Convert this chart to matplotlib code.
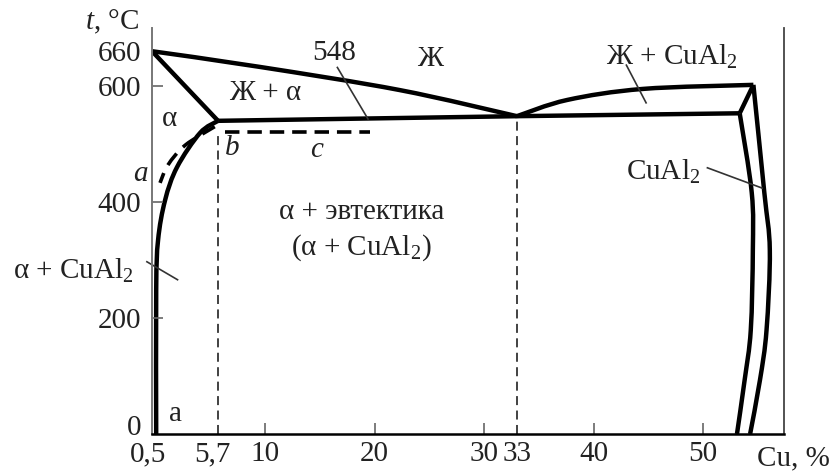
import numpy as np
import matplotlib
matplotlib.use("Agg")
import matplotlib.pyplot as plt
from matplotlib.path import Path
from matplotlib.patches import PathPatch
from matplotlib.transforms import ScaledTranslation

plt.rcParams['font.family'] = ['Liberation Serif', 'DejaVu Serif']
plt.rcParams['mathtext.fontset'] = 'custom'
plt.rcParams['mathtext.rm'] = 'Liberation Serif'
plt.rcParams['mathtext.it'] = 'Liberation Serif:italic'

# ---- data (Cu %, t in deg C) ----
liq_left_x = [-0.33, 9.5, 22.3, 33.0]
liq_left_t = [660, 633, 593, 548]

sol_left_x = [-0.33, 5.7]
sol_left_t = [660, 540]

eut_x = [5.7, 33.0, 53.35]
eut_t = [540, 548, 553]

liq_right_x = [33.0, 37.6, 44.5, 54.6]
liq_right_t = [548, 576, 595, 602]

corner_x = [54.6, 53.35]
corner_t = [602, 553]

# CuAl2 phase boundaries
cual_in_x = [53.35, 54.45, 54.55, 54.36, 53.8, 53.1]
cual_in_t = [553, 416, 317, 179, 93, 0]
cual_out_x = [54.6, 55.6, 56.1, 55.8, 55.2, 54.3]
cual_out_t = [602, 416, 317, 179, 93, 0]

# solvus of alpha (solid) and metastable (dashed)
solvus_x = [5.7, 4.05, 1.95, 0.86, 0.22, 0.05, 0.05]
solvus_t = [540, 519, 460, 403, 334, 248, 0]
solvus_d_x = [5.4, 2.7, 1.13, 0.4]
solvus_d_t = [530, 498, 464, 433]

bc_x = [6.3, 19.6]
bc_t = [521, 521]

x_ticks = [0.5, 5.7, 10, 20, 30, 33, 40, 50]
x_labels = ['0,5', '5,7', '10', '20', '30', '33', '40', '50']
y_ticks = [0, 200, 400, 600, 660]
y_labels = ['0', '200', '400', '600', '660']


def smooth_path(ax, xs, ts):
    # Catmull-Rom through the read points, drawn as cubic Bezier pieces in display space
    pts = ax.transData.transform(np.column_stack([xs, ts]))
    verts = [pts[0]]
    codes = [Path.MOVETO]
    n = len(pts)
    for i in range(n - 1):
        p0 = pts[i - 1] if i > 0 else pts[i]
        p1 = pts[i]
        p2 = pts[i + 1]
        p3 = pts[i + 2] if i + 2 < n else pts[i + 1]
        verts += [p1 + (p2 - p0) / 6, p2 - (p3 - p1) / 6, p2]
        codes += [Path.CURVE4] * 3
    verts = ax.transData.inverted().transform(np.array(verts))
    return Path(verts, codes)


fig = plt.figure(figsize=(8.34, 4.75), dpi=100)
ax = fig.add_axes([0.1823, 0.0863, 0.7578, 0.8547])
ax.set_xlim(-0.33, 57.4)
ax.set_ylim(0, 700)

txt = '#222222'
lw = 3.2
for xs, ts in [(sol_left_x, sol_left_t), (eut_x, eut_t), (corner_x, corner_t)]:
    ax.plot(xs, ts, color='black', lw=lw, solid_joinstyle='miter', solid_capstyle='butt')

for xs, ts in [(liq_left_x, liq_left_t), (liq_right_x, liq_right_t),
               (cual_in_x, cual_in_t), (cual_out_x, cual_out_t), (solvus_x, solvus_t)]:
    ax.add_patch(PathPatch(smooth_path(ax, xs, ts), fill=False, edgecolor='black',
                           lw=lw, capstyle='butt', joinstyle='miter'))

ax.add_patch(PathPatch(smooth_path(ax, solvus_d_x, solvus_d_t), fill=False,
                       edgecolor='black', lw=2.6, linestyle=(0, (4, 2.5))))
ax.plot(bc_x, bc_t, color='black', lw=2.6, dashes=(4, 2.2))

# vertical guides
ax.plot([5.7, 5.7], [0, 522], color='#333333', lw=1.3, dashes=(5, 3))
ax.plot([33, 33], [0, 546], color='#333333', lw=1.3, dashes=(5, 3))

# spines
ax.spines['top'].set_visible(False)
ax.spines['left'].set_color('#777777')
ax.spines['left'].set_linewidth(1.4)
ax.spines['right'].set_color('#444444')
ax.spines['right'].set_linewidth(1.3)
ax.spines['bottom'].set_linewidth(1.8)

fs = 21
ax.set_xticks(x_ticks)
ax.set_xticklabels(x_labels)
ax.set_yticks(y_ticks)
ax.set_yticklabels(y_labels)
ax.tick_params(axis='both', direction='in', length=8, width=1.2, color='#666666',
               labelsize=fs, labelcolor=txt)
ax.tick_params(axis='x', pad=5)
ax.tick_params(axis='y', pad=8)

xt = ax.xaxis.get_major_ticks()
for i in (0, 1, 5):
    xt[i].tick1line.set_visible(False)
yt = ax.yaxis.get_major_ticks()
for i in (0, 4):
    yt[i].tick1line.set_visible(False)

lab = ax.get_xticklabels()
lab[0].set_transform(lab[0].get_transform() + ScaledTranslation(-0.13, 0, fig.dpi_scale_trans))
lab[1].set_transform(lab[1].get_transform() + ScaledTranslation(-0.06, 0, fig.dpi_scale_trans))
ylab = ax.get_yticklabels()
ylab[0].set_transform(ylab[0].get_transform() + ScaledTranslation(0, 0.09, fig.dpi_scale_trans))

# axis titles
fig.text(0.134, 0.953, r'$t$, °C', fontsize=fs, color=txt, ha='center', va='center')
fig.text(0.951, 0.036, 'Cu, %', fontsize=fs, color=txt, ha='center', va='center')

ax.text(25.1, 647, 'Ж', fontsize=fs, color=txt, ha='center', va='center')
ax.text(16.3, 657, '548', fontsize=fs, color=txt, ha='center', va='center')
ax.plot([16.6, 19.4], [632, 543], color='#333333', lw=1.2)
ax.text(10.0, 588, 'Ж + α', fontsize=fs, color=txt, ha='center', va='center')
ax.text(1.3, 543, 'α', fontsize=fs, color=txt, ha='center', va='center')
ax.text(-1.4, 448, 'a', fontsize=fs, color=txt, ha='center', va='center',
        style='italic', clip_on=False)
ax.text(7.0, 493, 'b', fontsize=fs, color=txt, ha='center', va='center', style='italic')
ax.text(14.7, 490, 'c', fontsize=fs, color=txt, ha='center', va='center', style='italic')
ax.text(1.8, 34, 'a', fontsize=fs, color=txt, ha='center', va='center')

ax.text(-7.5, 281, 'α + CuAl$_2$', fontsize=fs, color=txt, ha='center', va='center',
        clip_on=False)
ax.plot([-0.8, 2.0], [297, 266], color='#333333', lw=1.2, clip_on=False)

ax.text(18.8, 383, 'α + эвтектика', fontsize=fs, color=txt, ha='center', va='center')
ax.text(18.8, 322, '(α + CuAl$_2$)', fontsize=fs, color=txt, ha='center', va='center')

ax.text(47.1, 650, 'Ж + CuAl$_2$', fontsize=fs, color=txt, ha='center', va='center')
ax.plot([43.0, 44.8], [636, 571], color='#333333', lw=1.2)

ax.text(46.4, 452, 'CuAl$_2$', fontsize=fs, color=txt, ha='center', va='center')
ax.plot([50.4, 55.4], [459, 424], color='#333333', lw=1.2)

fig.savefig('out.png', dpi=100)
